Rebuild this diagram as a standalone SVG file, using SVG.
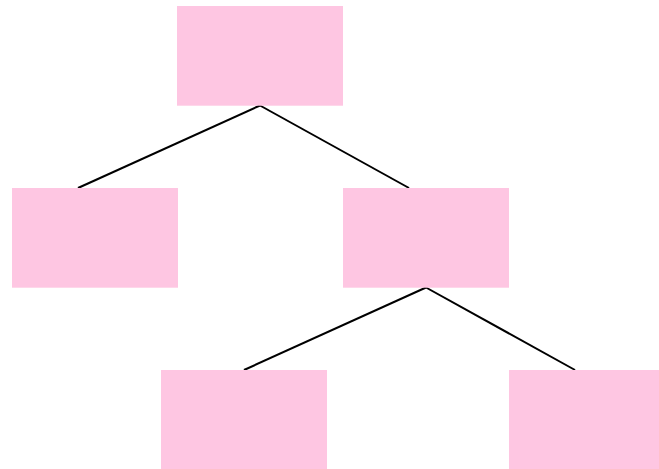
<svg xmlns="http://www.w3.org/2000/svg" width="659" height="469" viewBox="0 0 659 469">
<style>
.node{fill:#fec6e2;stroke:none}
.edge{stroke:#000;stroke-width:2;fill:none}
</style>
<rect width="659" height="469" fill="#fff"/>
<g id="connectors">
<line class="edge" x1="260" y1="105.5" x2="78" y2="188"/>
<line class="edge" x1="260" y1="105.5" x2="409" y2="188"/>
<line class="edge" x1="426" y1="287.5" x2="244" y2="370"/>
<line class="edge" x1="426" y1="287.5" x2="575" y2="370"/>
</g>
<g id="node-root"><rect class="node" x="177" y="6" width="166" height="99.7"/></g>
<g id="node-left"><rect class="node" x="12" y="188" width="166" height="99.7"/></g>
<g id="node-right"><rect class="node" x="343" y="188" width="166" height="99.7"/></g>
<g id="node-right-left"><rect class="node" x="161" y="370" width="166" height="99.7"/></g>
<g id="node-right-right"><rect class="node" x="509" y="370" width="166" height="99.7"/></g>
</svg>
